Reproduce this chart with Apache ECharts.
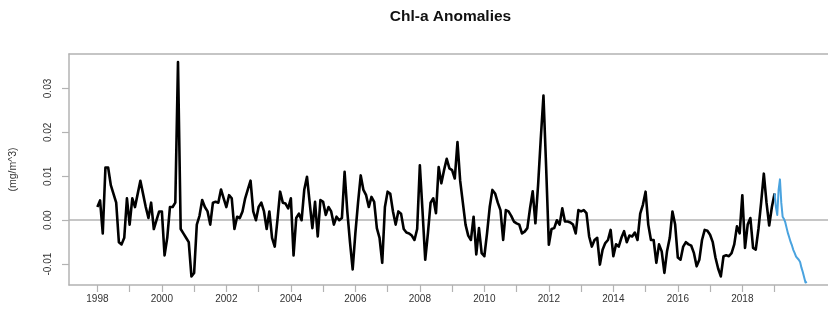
<!DOCTYPE html>
<html>
<head>
<meta charset="utf-8">
<script src="https://cdn.jsdelivr.net/npm/echarts@6/dist/echarts.min.js"></script>
<style>
html,body{margin:0;padding:0;background:#fff;}
#chart{width:828px;height:318px;}
</style>
</head>
<body>
<div id="chart"></div>
<script>
// ---- data ----
const chartTitle = 'Chl-a Anomalies';
const yTitle = '(mg/m^3)';
const blackStartYear = 1998;      // first month: Jan 1998, monthly steps
const blueStartYear = 2019;       // first point: Jan 2019, half-month steps
const xTickYears = [1998,1999,2000,2001,2002,2003,2004,2005,2006,2007,2008,2009,2010,2011,2012,2013,2014,2015,2016,2017,2018,2019];
const xLabelYears = [1998,2000,2002,2004,2006,2008,2010,2012,2014,2016,2018];
const yTickValues = [-0.01,0.00,0.01,0.02,0.03];

const blackValues = [
 0.003,0.0045,-0.003,0.012,0.012,0.008,0.006,0.004,-0.005,-0.0055,-0.004,0.005,
 -0.001,0.005,0.003,0.006,0.009,0.006,0.003,0.0005,0.004,-0.002,0.000,0.002,
 0.002,-0.008,-0.004,0.003,0.003,0.004,0.036,-0.002,-0.003,-0.004,-0.005,-0.0128,
 -0.012,-0.001,0.001,0.0046,0.003,0.002,-0.001,0.004,0.0042,0.004,0.007,0.005,
 0.003,0.0057,0.005,-0.002,0.0008,0.0005,0.002,0.005,0.007,0.009,0.002,0.0,
 0.003,0.004,0.002,-0.002,0.002,-0.004,-0.006,0.0,0.0065,0.004,0.0038,0.0027,
 0.005,-0.008,0.0005,0.0015,0.0,0.007,0.0099,0.004,-0.0018,0.0042,-0.0037,0.0046,
 0.0042,0.0012,0.003,0.002,-0.001,0.0008,0.0,0.0005,0.011,0.002,-0.005,-0.0112,
 -0.003,0.004,0.0102,0.0069,0.0057,0.003,0.0053,0.0042,-0.0018,-0.004,-0.0097,0.003,
 0.0065,0.006,0.002,-0.001,0.002,0.0015,-0.002,-0.0028,-0.003,-0.0035,-0.0045,-0.002,
 0.0125,0.002,-0.009,-0.003,0.004,0.005,0.0016,0.0121,0.0084,0.0114,0.014,0.0118,
 0.0114,0.0095,0.0178,0.009,0.004,-0.001,-0.0035,-0.0045,0.0008,-0.0078,-0.0018,-0.0075,
 -0.0082,-0.003,0.003,0.0069,0.0061,0.004,0.0023,-0.0045,0.0023,0.002,0.001,-0.0003,
 -0.0007,-0.001,-0.003,-0.0026,-0.0018,0.0027,0.0066,-0.0007,0.008,0.0186,0.0284,0.012,
 -0.0056,-0.002,-0.0018,0.0,-0.001,0.0027,-0.0003,-0.0003,-0.0005,-0.001,-0.003,0.0023,
 0.002,0.0023,0.0016,-0.0037,-0.006,-0.0045,-0.004,-0.0101,-0.0067,-0.0052,-0.0045,-0.0022,
 -0.0082,-0.0055,-0.006,-0.004,-0.0025,-0.005,-0.0035,-0.0037,-0.0028,-0.0045,0.0015,0.0035,
 0.0065,-0.001,-0.0045,-0.0045,-0.0097,-0.0055,-0.0071,-0.012,-0.007,-0.004,0.002,-0.001,
 -0.0085,-0.009,-0.006,-0.005,-0.0055,-0.0058,-0.0075,-0.0105,-0.009,-0.0045,-0.0022,-0.0024,
 -0.0033,-0.005,-0.0085,-0.011,-0.0128,-0.0082,-0.008,-0.0082,-0.0075,-0.0055,-0.0014,-0.003,
 0.0057,-0.0063,-0.001,0.0005,-0.0063,-0.0067,-0.002,0.004,0.0106,0.004,-0.0012,0.003,
 0.0061
];

const blueValues = [
 0.0061,0.003,0.0012,0.0069,0.0093,0.004,0.0008,0.0003,-0.0005,-0.0018,-0.003,-0.004,
 -0.005,-0.0058,-0.0068,-0.0075,-0.0083,-0.0086,-0.009,-0.0095,-0.0108,-0.0118,-0.013,-0.0142,
 -0.014
];

// ---- build series pairs (time in decimal years) ----
const blackData = blackValues.map((v, i) => [blackStartYear + i / 12, v]);
const blueData = blueValues.map((v, i) => [blueStartYear + i / 24, v]);

const gridColor = '#b3b3b3';
const textColor = '#333';
const fontFam = '"Liberation Sans", Arial, Helvetica, sans-serif';
const xMin = 1997.12, xMax = 2020.657;

const chart = echarts.init(document.getElementById('chart'), null, {renderer: 'canvas'});
chart.setOption({
  animation: false,
  backgroundColor: '#fff',
  textStyle: {fontFamily: fontFam},
  graphic: [{
    type: 'text',
    x: 450.5, y: 17,
    style: {
      text: chartTitle,
      fill: '#111',
      font: 'bold 15.5px ' + fontFam,
      textAlign: 'center',
      textVerticalAlign: 'middle'
    }
  }],
  grid: {
    left: 68, top: 54, right: 0, bottom: 33,
    containLabel: false,
    show: false
  },
  xAxis: [{
    type: 'value',
    position: 'bottom',
    min: xMin,
    max: xMax,
    splitLine: {show: false},
    axisLine: {show: true, onZero: false, lineStyle: {color: gridColor, width: 1.5}},
    axisTick: {show: true, customValues: xTickYears, length: 7, inside: false, lineStyle: {color: gridColor, width: 1.2}},
    axisLabel: {
      customValues: xLabelYears,
      formatter: v => String(Math.round(v)),
      fontSize: 10, color: textColor, margin: 9, fontFamily: fontFam
    }
  }, {
    type: 'value',
    position: 'top',
    min: xMin,
    max: xMax,
    splitLine: {show: false},
    axisLine: {show: true, onZero: false, lineStyle: {color: gridColor, width: 1.5}},
    axisTick: {show: false},
    axisLabel: {show: false}
  }],
  yAxis: {
    type: 'value',
    min: -0.01475,
    max: 0.03785,
    name: yTitle,
    nameLocation: 'middle',
    nameGap: 50,
    nameRotate: 90,
    nameTextStyle: {fontSize: 10.5, color: textColor, fontFamily: fontFam},
    splitLine: {show: false},
    axisLine: {show: true, onZero: false, lineStyle: {color: gridColor, width: 1.5}},
    axisTick: {show: true, customValues: yTickValues, length: 7, inside: false, lineStyle: {color: gridColor, width: 1.2}},
    axisLabel: {
      customValues: yTickValues,
      formatter: v => v.toFixed(2),
      rotate: 90,
      fontSize: 10, color: textColor, margin: 16, fontFamily: fontFam
    }
  },
  series: [
    {
      type: 'line',
      xAxisIndex: 0,
      data: blackData,
      showSymbol: false,
      symbol: 'none',
      lineStyle: {color: '#000', width: 2.6, join: 'round'},
      z: 3,
      markLine: {
        silent: true,
        symbol: ['none', 'none'],
        label: {show: false},
        lineStyle: {color: gridColor, width: 1.5, type: 'solid'},
        data: [{yAxis: 0}],
        z: 1
      }
    },
    {
      type: 'line',
      xAxisIndex: 0,
      data: blueData,
      showSymbol: false,
      symbol: 'none',
      lineStyle: {color: '#4aa3df', width: 2, join: 'round'},
      z: 4
    }
  ]
});
</script>
</body>
</html>
